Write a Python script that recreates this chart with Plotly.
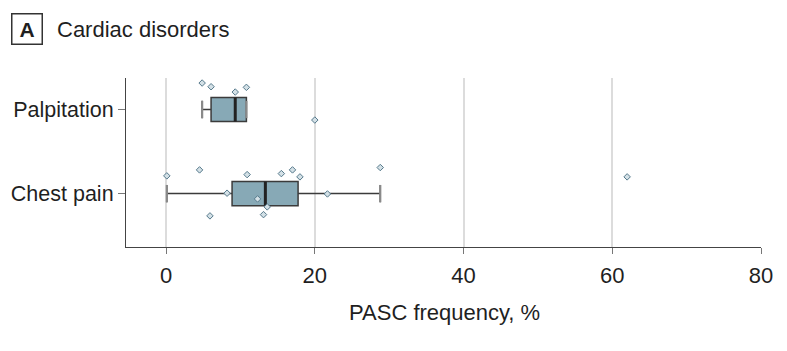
import numpy as np
import plotly.graph_objects as go

# ---- data ----
categories = ["Chest pain", "Palpitation"]
palpitation = [4.85, 6.05, 9.3, 10.8, 20.0]
palpitation_jitter = [0.315, 0.271, 0.208, 0.264, -0.125]
chest_pain = [0.1, 4.5, 5.9, 8.2, 10.9, 12.3, 13.1, 13.6, 15.5, 17.0, 18.0, 21.7, 28.8, 62.0]
chest_pain_jitter = [0.211, 0.282, -0.265, 0.005, 0.226, -0.063, -0.25, -0.158, 0.238, 0.282, 0.199, -0.004, 0.31, 0.199]
x_ticks = [0, 20, 40, 60, 80]

FONT = "Liberation Sans, Arial, sans-serif"
TXT = "#1f1f1f"
BOX_FILL = "#87a9b6"
BOX_LINE = "#3b3b3b"
PT_FILL = "#d3e0e6"
PT_LINE = "#56798b"
BOX_W = 0.286


def box_stats(vals):
    v = np.asarray(vals, dtype=float)
    q1, med, q3 = np.percentile(v, [25, 50, 75])
    iqr = q3 - q1
    lo = v[v >= q1 - 1.5 * iqr].min()
    hi = v[v <= q3 + 1.5 * iqr].max()
    return float(q1), float(med), float(q3), float(lo), float(hi)


series = [(0, chest_pain, chest_pain_jitter), (1, palpitation, palpitation_jitter)]

fig = go.Figure()
for pos, vals, jit in series:
    q1, med, q3, lo, hi = box_stats(vals)
    fig.add_trace(go.Box(
        y=[pos], q1=[q1], median=[med], q3=[q3], lowerfence=[lo], upperfence=[hi],
        orientation="h", boxpoints=False,
        width=BOX_W, whiskerwidth=0.72,
        fillcolor=BOX_FILL, line=dict(color=BOX_LINE, width=1.5),
        showlegend=False, hoverinfo="skip",
    ))
    # whisker end caps (thicker grey)
    for xc in (lo, hi):
        fig.add_trace(go.Scatter(
            x=[xc, xc], y=[pos - BOX_W * 0.36, pos + BOX_W * 0.36], mode="lines",
            line=dict(color="#8a8a8a", width=2.2), showlegend=False, hoverinfo="skip",
        ))
    fig.add_trace(go.Scatter(
        x=[med, med], y=[pos - BOX_W / 2, pos + BOX_W / 2], mode="lines",
        line=dict(color="#222222", width=3), showlegend=False, hoverinfo="skip",
    ))
    fig.add_trace(go.Scatter(
        x=vals, y=[pos + j for j in jit], mode="markers",
        marker=dict(symbol="diamond", size=5, color=PT_FILL,
                    line=dict(color=PT_LINE, width=1)),
        showlegend=False, hoverinfo="skip",
    ))

fig.update_layout(
    width=787, height=351,
    margin=dict(l=126, r=26, t=78, b=104),
    plot_bgcolor="white", paper_bgcolor="white",
    font=dict(family=FONT, size=22, color=TXT),
    xaxis=dict(
        range=[-5.39, 80], tickvals=x_ticks, ticktext=[str(v) for v in x_ticks],
        showgrid=True, gridcolor="#dcdcdc", gridwidth=2,
        showline=True, linecolor="#444444", linewidth=1.2,
        ticks="outside", ticklen=6, tickcolor="#777777", tickwidth=1.2,
        zeroline=False, tickfont=dict(size=22, color=TXT), ticklabelstandoff=2,
        automargin=False,
    ),
    yaxis=dict(
        type="linear", range=[-0.635, 1.375],
        tickvals=[0, 1], ticktext=categories,
        showgrid=False, zeroline=False,
        showline=True, linecolor="#444444", linewidth=1.2,
        ticks="outside", ticklen=7, tickcolor="#777777", tickwidth=1.2,
        tickfont=dict(size=21.5, color=TXT), ticklabelstandoff=0,
        automargin=False,
    ),
    annotations=[
        dict(text="<b>A</b>", xref="paper", yref="paper",
             x=(26.5 - 126) / 635, y=(247 - 29) / 169,
             xanchor="center", yanchor="middle", showarrow=False,
             width=29, height=29, borderwidth=1.5, bordercolor="#333333",
             borderpad=0, font=dict(size=21, color=TXT)),
        dict(text="Cardiac disorders", xref="paper", yref="paper",
             x=(55 - 126) / 635, y=(247 - 29) / 169,
             xanchor="left", yanchor="middle", showarrow=False,
             font=dict(size=22, color=TXT)),
        dict(text="PASC frequency, %", xref="paper", yref="paper",
             x=(444 - 126) / 635, y=(247 - 312) / 169,
             xanchor="center", yanchor="middle", showarrow=False,
             font=dict(size=22, color=TXT)),
    ],
)

fig.write_html("out.html")
